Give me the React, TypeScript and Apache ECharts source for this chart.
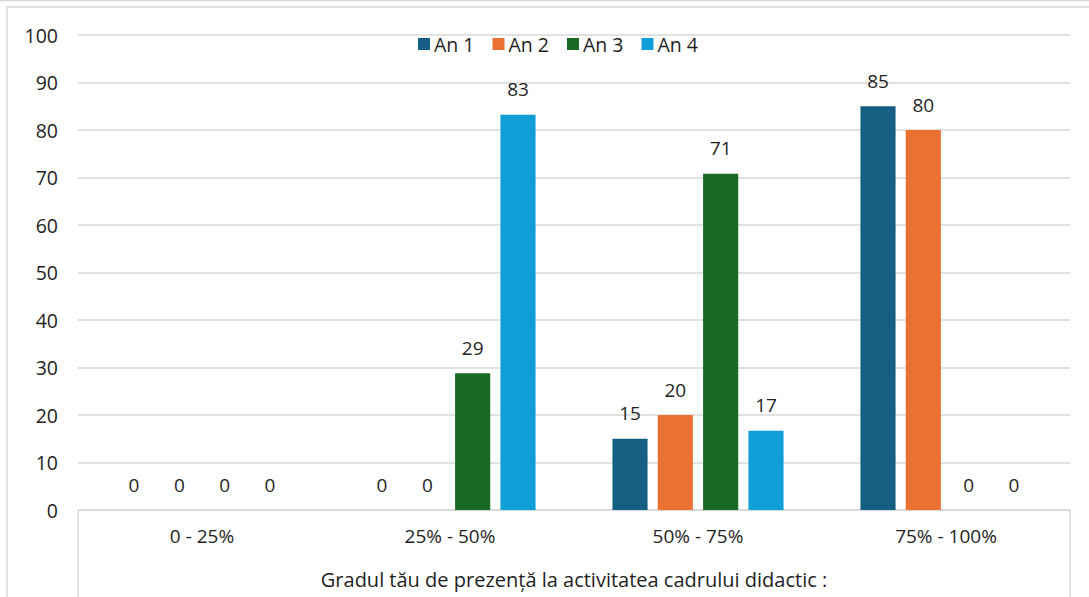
import React, { useEffect, useRef } from "react";
import * as echarts from "echarts";

const categories = ["0 - 25%", "25% - 50%", "50% - 75%", "75% - 100%"];
const seriesNames = ["An 1", "An 2", "An 3", "An 4"];
const an1 = [0, 0, 15, 85];
const an2 = [0, 0, 20, 80];
const an3 = [0, 28.8, 70.8, 0];
const an4 = [0, 83.2, 16.7, 0];
const colors = ["#156082", "#E97132", "#196B24", "#0F9ED5"];
const yTicks = { min: 0, max: 100, interval: 10 };
const axisTitle = "Gradul tău de prezență la activitatea cadrului didactic :";

const FONT = "Open Sans";
const TEXT = "#1f1f1f";
const GRID = "#d9d9d9";

export default function App() {
  const ref = useRef<HTMLDivElement>(null);
  useEffect(() => {
    if (!ref.current) return;
    const chart = echarts.init(ref.current, null, { renderer: "svg" });
    const data = [an1, an2, an3, an4];
    chart.setOption({
      animation: false,
      textStyle: { fontFamily: FONT },
      legend: {
        data: seriesNames,
        top: 29,
        left: 413,
        itemWidth: 12,
        itemHeight: 12,
        itemGap: 18,
        icon: "rect",
        textStyle: { fontFamily: FONT, fontSize: 19.5, color: TEXT, padding: [0, 0, 0, -1] },
      },
      grid: { left: 78, right: 19, top: 35, bottom: 87, containLabel: false },
      xAxis: {
        type: "category",
        data: categories,
        axisLine: { show: true, lineStyle: { color: GRID, width: 1.5 } },
        axisTick: { show: false },
        axisLabel: { fontFamily: FONT, fontSize: 19, color: TEXT, margin: 16 },
        name: axisTitle,
        nameLocation: "middle",
        nameGap: 59,
        nameTextStyle: { fontFamily: FONT, fontSize: 20, color: TEXT },
      },
      yAxis: {
        type: "value",
        min: yTicks.min,
        max: yTicks.max,
        interval: yTicks.interval,
        axisLine: { show: false },
        axisTick: { show: false },
        splitLine: { lineStyle: { color: GRID, width: 1.5 } },
        axisLabel: { fontFamily: FONT, fontSize: 19.5, color: TEXT, margin: 20 },
      },
      series: seriesNames.map((name, i) => ({
        name,
        type: "bar",
        data: data[i],
        itemStyle: { color: colors[i] },
        barGap: "29%",
        barCategoryGap: "31%",
        label: {
          show: true,
          position: "top",
          distance: 16,
          fontFamily: FONT,
          fontSize: 19,
          color: TEXT,
          formatter: (p: any) => String(Math.round(p.value)),
        },
      })),
      graphic: [
        { type: "line", shape: { x1: 0, y1: 0.5, x2: 1089, y2: 0.5 }, style: { stroke: GRID, lineWidth: 1.5 } },
        { type: "rect", shape: { x: 7, y: 7, width: 1200, height: 700 }, style: { fill: "none", stroke: GRID, lineWidth: 1.5 } },
        { type: "line", shape: { x1: 78, y1: 510, x2: 78, y2: 597 }, style: { stroke: GRID, lineWidth: 1.5 } },
        { type: "line", shape: { x1: 1070, y1: 510, x2: 1070, y2: 597 }, style: { stroke: GRID, lineWidth: 1.5 } },
      ],
    });
    return () => chart.dispose();
  }, []);
  return (
    <div
      ref={ref}
      style={{ position: "fixed", left: 0, top: 0, width: 1089, height: 597, background: "#fff" }}
    />
  );
}
